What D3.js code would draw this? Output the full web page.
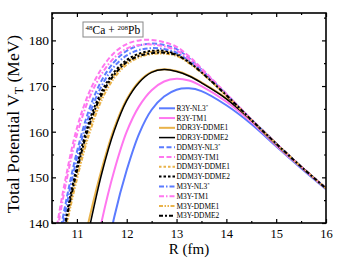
<!DOCTYPE html>
<html>
<head>
<meta charset="utf-8">
<script src="https://cdn.jsdelivr.net/npm/d3@7"></script>
<style>
  body { margin: 0; background: #fff; }
  text { font-family: "Liberation Serif", "Times New Roman", serif; fill: #000; }
</style>
</head>
<body>
<div id="chart"></div>
<script>
// radial grid (fm)
const R = [10.5, 10.75, 11.0, 11.25, 11.5, 11.75, 12.0, 12.25, 12.5, 12.75, 13.0, 13.25, 13.5, 14.0, 14.5, 15.0, 15.5, 16.0];

// total potential V_T (MeV)
const r3yNL3   = [70, 85, 99, 113, 127.5, 141.3, 151.6, 159.6, 164.8, 167.7, 169.2, 169.5, 168.9, 165.8, 161.7, 156.8, 152.0, 147.4];
const r3yTM1   = [80, 97, 112, 126.5, 140.5, 151.5, 160.0, 165.6, 169.1, 171.0, 171.6, 171.2, 170.0, 166.6, 162.2, 157.0, 152.2, 147.5];
const ddr3yME1 = [96, 113, 128, 141.0, 151.9, 160.8, 167.1, 171.0, 173.1, 173.7, 173.3, 172.3, 170.8, 167.3, 162.5, 157.2, 152.3, 147.55];
const ddr3yME2 = [93, 110, 125.5, 138.9, 150.9, 160.2, 166.8, 170.8, 173.0, 173.6, 173.2, 172.2, 170.7, 167.2, 162.5, 157.2, 152.3, 147.55];
const ddm3yNL3 = [128, 143.0, 155.6, 165.0, 171.3, 175.3, 177.7, 178.9, 179.3, 179.0, 178.1, 176.1, 173.6, 168.2, 162.7, 157.4, 152.35, 147.6];
const ddm3yTM1 = [133, 148.5, 160.8, 168.7, 173.9, 177.3, 179.2, 180.0, 180.1, 179.6, 178.6, 176.5, 173.9, 168.3, 162.7, 157.4, 152.35, 147.6];
const ddm3yME1 = [120, 138.0, 150.6, 160.5, 167.8, 172.4, 175.2, 176.8, 177.5, 177.5, 176.9, 175.2, 173.0, 168.0, 162.6, 157.4, 152.35, 147.6];
const ddm3yME2 = [124, 139.6, 152.4, 162.4, 168.9, 173.1, 175.7, 177.1, 177.7, 177.7, 177.0, 175.3, 173.1, 168.0, 162.6, 157.4, 152.35, 147.6];
const m3yNL3   = [126.5, 141.5, 154.2, 163.7, 170.1, 174.3, 176.7, 177.9, 178.3, 178.1, 177.3, 175.5, 173.2, 168.1, 162.7, 157.4, 152.35, 147.6];
const m3yTM1   = [131.5, 147.0, 159.3, 167.4, 172.7, 176.2, 178.2, 179.0, 179.1, 178.7, 177.8, 175.9, 173.5, 168.2, 162.7, 157.4, 152.35, 147.6];
const m3yME1   = [119, 137.0, 149.6, 159.6, 167.0, 171.8, 174.7, 176.3, 177.0, 177.1, 176.6, 175.0, 172.9, 167.9, 162.6, 157.4, 152.35, 147.6];
const m3yME2   = [123, 138.6, 151.4, 161.5, 168.2, 172.5, 175.2, 176.6, 177.2, 177.3, 176.8, 175.2, 173.0, 168.0, 162.6, 157.4, 152.35, 147.6];

const xTicks = [11, 12, 13, 14, 15, 16];
const yTicks = [140, 150, 160, 170, 180];

const blue = '#5b7bff', pink = '#ff76ef', orange = '#e9b34a', black = '#000';

const series = [
  {name: 'R3Y-NL3', star: true, values: r3yNL3, color: blue, dash: null, w: 2},
  {name: 'R3Y-TM1', values: r3yTM1, color: pink, dash: null, w: 2},
  {name: 'DDR3Y-DDME1', values: ddr3yME1, color: orange, dash: null, w: 2},
  {name: 'DDR3Y-DDME2', values: ddr3yME2, color: black, dash: null, w: 1.5},
  {name: 'DDM3Y-NL3', star: true, values: ddm3yNL3, color: blue, dash: '5,2.5', w: 2},
  {name: 'DDM3Y-TM1', values: ddm3yTM1, color: pink, dash: '5,2.5', w: 2},
  {name: 'DDM3Y-DDME1', values: ddm3yME1, color: orange, dash: '2.5,2', w: 2},
  {name: 'DDM3Y-DDME2', values: ddm3yME2, color: black, dash: '2.5,2', w: 2},
  {name: 'M3Y-NL3', star: true, values: m3yNL3, color: blue, dash: '5,2,1.5,2', w: 2},
  {name: 'M3Y-TM1', values: m3yTM1, color: pink, dash: '5,2,1.5,2', w: 2},
  {name: 'M3Y-DDME1', values: m3yME1, color: orange, dash: '4,1.5,1.5,1.5,1.5,1.5', w: 2},
  {name: 'M3Y-DDME2', values: m3yME2, color: black, dash: '4,2,2,2', w: 2}
];

var margin = {top: 13, right: 17, bottom: 40, left: 52},
    width = 343 - margin.left - margin.right,
    height = 263 - margin.top - margin.bottom;

const svg = d3.select('#chart')
  .append('svg')
  .attr('width', width + margin.left + margin.right)
  .attr('height', height + margin.top + margin.bottom)
  .append('g')
  .attr('transform', 'translate(' + margin.left + ',' + margin.top + ')');

const xScale = d3.scaleLinear().domain([10.5, 16]).range([0, width]);
const yScale = d3.scaleLinear().domain([140, 186]).range([height, 0]);

svg.append('clipPath').attr('id', 'clip')
  .append('rect').attr('width', width).attr('height', height);

const line = d3.line()
  .x((d, i) => xScale(R[i]))
  .y(d => yScale(d))
  .curve(d3.curveCatmullRom.alpha(0.5));

svg.append('g').attr('clip-path', 'url(#clip)')
  .selectAll('path')
  .data(series)
  .enter()
  .append('path')
  .attr('d', d => line(d.values))
  .attr('fill', 'none')
  .attr('stroke', d => d.color)
  .attr('stroke-width', d => d.w)
  .attr('stroke-dasharray', d => d.dash);

// axes, ticks pointing inward
const xMinor = d3.range(10.5, 16.01, 0.5).filter(v => !xTicks.includes(v));
const yMinor = d3.range(145, 186, 10);

function styleAxis(g){
  g.select('.domain').remove();
  g.selectAll('line').attr('stroke', '#000').attr('stroke-width', 1.2);
}

svg.append('g').attr('transform', `translate(0,${height})`)
  .call(d3.axisBottom(xScale).tickValues(xTicks).tickSize(-4).tickPadding(6).tickFormat(d3.format('d')))
  .call(styleAxis)
  .selectAll('text').style('font-size', '12.5px').style('font-family', '"Liberation Serif", serif');
svg.append('g').attr('transform', `translate(0,${height})`)
  .call(d3.axisBottom(xScale).tickValues(xMinor).tickSize(-2).tickFormat(''))
  .call(styleAxis);
svg.append('g')
  .call(d3.axisTop(xScale).tickValues(xTicks).tickSize(-4).tickFormat(''))
  .call(styleAxis);
svg.append('g')
  .call(d3.axisTop(xScale).tickValues(xMinor).tickSize(-2).tickFormat(''))
  .call(styleAxis);

svg.append('g')
  .call(d3.axisLeft(yScale).tickValues(yTicks).tickSize(-4).tickPadding(3))
  .call(styleAxis)
  .selectAll('text').style('font-size', '13.5px').style('font-family', '"Liberation Serif", serif');
svg.append('g')
  .call(d3.axisLeft(yScale).tickValues(yMinor).tickSize(-2).tickFormat(''))
  .call(styleAxis);
svg.append('g').attr('transform', `translate(${width},0)`)
  .call(d3.axisRight(yScale).tickValues(yTicks).tickSize(-4).tickFormat(''))
  .call(styleAxis);
svg.append('g').attr('transform', `translate(${width},0)`)
  .call(d3.axisRight(yScale).tickValues(yMinor).tickSize(-2).tickFormat(''))
  .call(styleAxis);

svg.append('rect')
  .attr('width', width).attr('height', height)
  .attr('fill', 'none').attr('stroke', '#000').attr('stroke-width', 1.6);

// axis titles
svg.append('text')
  .attr('x', width / 2)
  .attr('y', height + 31)
  .attr('text-anchor', 'middle')
  .style('font-size', '15px')
  .text('R (fm)');

const yt = svg.append('text')
  .attr('transform', `translate(-33,${height / 2 + 6}) rotate(-90)`)
  .attr('text-anchor', 'middle')
  .style('font-size', '17.5px');
yt.append('tspan').text('Total Potential V');
yt.append('tspan').attr('dy', 4).style('font-size', '12px').text('T');
yt.append('tspan').attr('dy', -4).text(' (MeV)');

// reaction label
svg.append('rect')
  .attr('x', 31).attr('y', 9).attr('width', 60).attr('height', 15)
  .attr('fill', '#fff').attr('stroke', '#888').attr('stroke-width', 1);
const lab = svg.append('text').attr('x', 33.5).attr('y', 20.5).style('font-size', '11.5px');
lab.append('tspan').attr('dy', -4).style('font-size', '7px').text('48');
lab.append('tspan').attr('dy', 4).text('Ca + ');
lab.append('tspan').attr('dy', -4).style('font-size', '7px').text('208');
lab.append('tspan').attr('dy', 4).text('Pb');

// legend
const legend = svg.append('g').attr('transform', `translate(${107},${95.3})`);
const item = legend.selectAll('g')
  .data(series)
  .enter()
  .append('g')
  .attr('transform', (d, i) => `translate(0,${i * 9.76})`);
item.append('line')
  .attr('x1', 0).attr('x2', 16)
  .attr('stroke', d => d.color)
  .attr('stroke-width', d => d.w)
  .attr('stroke-dasharray', d => d.dash);
const lt = item.append('text')
  .attr('x', 17.5).attr('y', 2.6)
  .style('font-size', '7.4px');
lt.append('tspan').text(d => d.name);
lt.filter(d => d.star).append('tspan')
  .attr('dy', -2.5).style('font-size', '5px').text('*');
</script>
</body>
</html>
